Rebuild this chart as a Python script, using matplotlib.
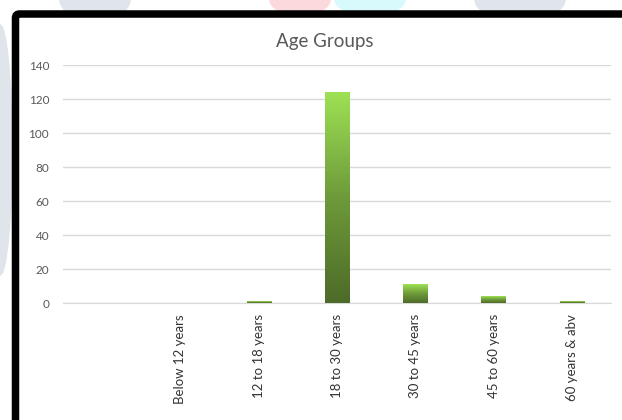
import matplotlib
matplotlib.use("Agg")
import matplotlib.pyplot as plt
import numpy as np
from matplotlib import patches
from matplotlib.colors import LinearSegmentedColormap

# data
categories = ["", "Below 12 years", "12 to 18 years", "18 to 30 years",
              "30 to 45 years", "45 to 60 years", "60 years & abv"]
counts = [0, 0, 1, 124, 11, 4, 1]
yticks = [0, 20, 40, 60, 80, 100, 120, 140]

plt.rcParams['font.family'] = ['Lato', 'DejaVu Sans']

fig = plt.figure(figsize=(6.22, 4.2), dpi=100, facecolor='white')

# faint watermark shapes behind the frame
wm = fig.add_axes([0, 0, 1, 1], zorder=-5)
wm.set_xlim(0, 622)
wm.set_ylim(420, 0)
wm.axis('off')
wm.add_patch(patches.Ellipse((95, 0), 70, 40, color='#dfe5ea'))
wm.add_patch(patches.Ellipse((520, 0), 90, 40, color='#dfe5ea'))
wm.add_patch(patches.Ellipse((300, 0), 60, 30, color='#fbd9dd'))
wm.add_patch(patches.Ellipse((370, 0), 70, 30, color='#d8fafc'))
wm.add_patch(patches.Ellipse((0, 150), 24, 250, color='#dfe5ea'))

# black frame (display pixels, origin bottom-left), runs off right and bottom
frame = patches.FancyBboxPatch((15.5, -60), 700, 420 - 14 + 60,
                               boxstyle="round,pad=0,rounding_size=4",
                               transform=None, facecolor='white', edgecolor='black',
                               linewidth=5.4, zorder=-1)
fig.patches.append(frame)

ax = fig.add_axes([63/622, (420-303)/420, (611-63)/622, 238/420])
ax.set_facecolor('none')
x = np.arange(len(categories))
bars = ax.bar(x, counts, width=0.31, color='none', edgecolor='none', zorder=3)

# vertical green gradient inside each bar
cmap = LinearSegmentedColormap.from_list('g', ['#4d6b28', '#6e9a3a', '#9de154'])
grad = np.linspace(0, 1, 256).reshape(-1, 1)
for b in bars:
    h = b.get_height()
    if h <= 0:
        continue
    im = ax.imshow(grad, cmap=cmap, aspect='auto', origin='lower',
                   extent=(b.get_x(), b.get_x() + b.get_width(), 0, h), zorder=3)
    im.set_clip_path(b)

ax.set_xlim(-0.5, len(categories) - 0.5)
ax.set_ylim(0, 140)
ax.set_yticks(yticks)
ax.set_xticks(x)
ax.set_xticklabels(categories, rotation=90, fontsize=9.5, color='#333333')
ax.tick_params(axis='y', length=0, pad=10, labelsize=8.5, labelcolor='#595959')
ax.tick_params(axis='x', length=0, pad=8)
ax.grid(axis='y', color='#d9d9d9', linewidth=1, zorder=0)
for s in ['top', 'right', 'left']:
    ax.spines[s].set_visible(False)
ax.spines['bottom'].set_color('#d9d9d9')

fig.text(325/622, 1 - 42/420, "Age Groups", ha='center', va='center',
         fontsize=13.5, color='#595959')

fig.savefig("out.png", dpi=100)
